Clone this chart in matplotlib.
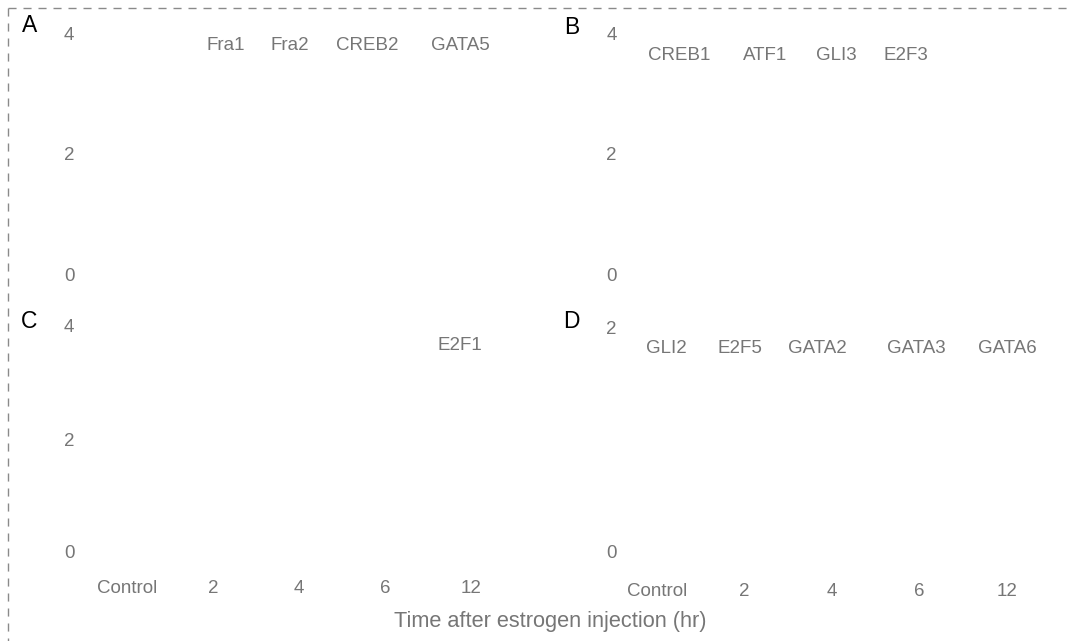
import matplotlib
matplotlib.use("Agg")
import matplotlib.pyplot as plt
from matplotlib.lines import Line2D

# ---------------- data ----------------
time_labels = ["Control", "2", "4", "6", "12"]
panel_names = ["A", "B", "C", "D"]
genes_A = ["Fra1", "Fra2", "CREB2", "GATA5"]
genes_B = ["CREB1", "ATF1", "GLI3", "E2F3"]
genes_C = ["E2F1"]
genes_D = ["GLI2", "E2F5", "GATA2", "GATA3", "GATA6"]
yticks_A = [0, 2, 4]
yticks_B = [0, 2, 4]
yticks_C = [0, 2, 4]
yticks_D = [0, 2]
xlabel_text = "Time after estrogen injection (hr)"

# ---------------- layout (pixels) ----------------
W, H = 1071, 641
fig = plt.figure(figsize=(W / 100, H / 100), dpi=100)
plt.rcParams["lines.scale_dashes"] = False

GRAY = "#767676"
FONT = "Liberation Sans"
TICK_FS = 13.5


def fx(px):
    return px / W


def fy(py):
    return 1 - py / H


def make_axes(x_first, x_step, xlo, xhi, y_top_px, y_bot_px, ylim):
    # x_first: pixel of category 0, x_step: pixel per category
    left = x_first + xlo * x_step
    right = x_first + xhi * x_step
    ax = fig.add_axes([fx(left), fy(y_bot_px), (right - left) / W, (y_bot_px - y_top_px) / H])
    ax.set_xlim(xlo, xhi)
    ax.set_ylim(*ylim)
    for s in ax.spines.values():
        s.set_visible(False)
    ax.patch.set_alpha(0)
    return ax


# panel layouts: (x_first, x_step, xlo, xhi, top_px, bottom_px, ylim, ytick list, show x labels, xpad)
layouts = {
    "A": (127, 86, -0.5, 4.5, 34, 274, (0, 4), yticks_A, False, 0),
    "B": (657, 87.5, -0.35, 4.5, 34, 274, (0, 4), yticks_B, False, 0),
    "C": (127, 86, -0.5, 4.5, 326, 552, (0, 4), yticks_C, True, 20),
    "D": (657, 87.5, -0.35, 4.5, 328, 552, (0, 2), yticks_D, True, 22),
}

axes = {}
for name in panel_names:
    xf, xs, xlo, xhi, yt, yb, yl, yticks, showx, xpad = layouts[name]
    ax = make_axes(xf, xs, xlo, xhi, yt, yb, yl)
    ax.set_yticks(yticks)
    ax.set_yticklabels([str(v) for v in yticks], fontsize=TICK_FS, color=GRAY, family=FONT)
    ax.tick_params(axis="y", length=0, pad=7)
    ax.set_xticks(range(len(time_labels)))
    if showx:
        ax.set_xticklabels(time_labels, fontsize=TICK_FS, color=GRAY, family=FONT)
        ax.tick_params(axis="x", length=0, pad=xpad)
    else:
        ax.set_xticklabels([])
        ax.tick_params(axis="x", length=0)
    axes[name] = ax

# panel letters
letter_pos = {"A": (30, 26), "B": (572, 27), "C": (29, 321), "D": (571, 321)}
for name in panel_names:
    x, y = letter_pos[name]
    fig.text(fx(x), fy(y), name, fontsize=16.5, family=FONT, color="black",
             ha="center", va="center")

# gene labels
gene_sets = {"A": genes_A, "B": genes_B, "C": genes_C, "D": genes_D}
gene_pos = {
    "A": ([226, 290, 367, 460], 46),
    "B": ([679, 765, 836, 906], 55),
    "C": ([460], 345),
    "D": ([666, 740, 817, 916, 1007], 348),
}
for name in panel_names:
    xs, y = gene_pos[name]
    for g, x in zip(gene_sets[name], xs):
        fig.text(fx(x), fy(y), g, fontsize=TICK_FS, family=FONT, color=GRAY,
                 ha="center", va="center")

# x axis label
fig.text(fx(550), fy(621), xlabel_text, fontsize=15.7, family=FONT, color=GRAY,
         ha="center", va="center")

# dashed frame (top and left)
fig.add_artist(Line2D([fx(8), 1.0], [fy(7.5), fy(7.5)], transform=fig.transFigure,
                      color="#8a8a8a", lw=1.0, linestyle=(0, (5.8, 5.0))))
fig.add_artist(Line2D([fx(8), fx(8)], [fy(7.5), 0.0], transform=fig.transFigure,
                      color="#8a8a8a", lw=1.0, linestyle=(0, (5.8, 5.0))))

fig.savefig("out.png", dpi=100, facecolor="white")
